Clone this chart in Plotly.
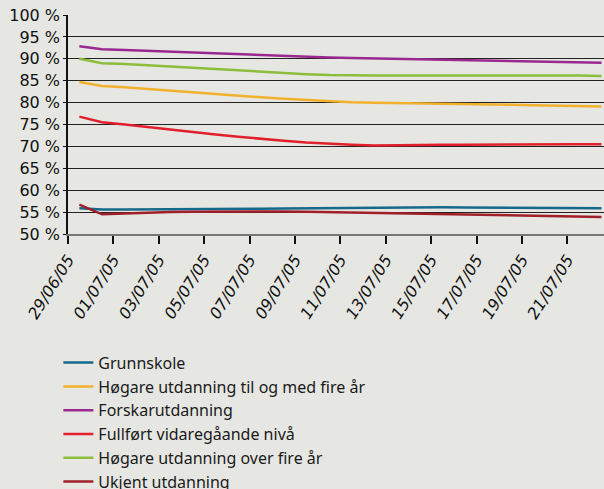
import plotly.graph_objects as go
import pandas as pd

dates = pd.date_range("2005-06-29 12:00", periods=24, freq="D")

grunnskole = [55.9, 55.6, 55.6, 55.6, 55.6, 55.6, 55.65, 55.7, 55.75, 55.8, 55.85, 55.9,
              56.0, 56.05, 56.1, 56.1, 56.1, 56.05, 56.0, 56.0, 55.95, 55.9, 55.9, 55.9]
hogare_til_fire = [84.7, 83.8, 83.5, 83.1, 82.7, 82.3, 81.9, 81.6, 81.2, 80.9, 80.6, 80.3,
                   80.1, 79.95, 79.9, 79.8, 79.8, 79.7, 79.6, 79.5, 79.4, 79.3, 79.2, 79.1]
forskar = [92.85, 92.2, 92.0, 91.8, 91.6, 91.4, 91.2, 91.0, 90.8, 90.6, 90.4, 90.3,
           90.2, 90.1, 90.0, 89.95, 89.9, 89.8, 89.6, 89.5, 89.4, 89.3, 89.2, 89.1]
vidaregaande = [76.8, 75.5, 75.0, 74.4, 73.8, 73.2, 72.7, 72.2, 71.7, 71.3, 70.9, 70.6,
                70.4, 70.2, 70.2, 70.3, 70.35, 70.4, 70.45, 70.5, 70.5, 70.5, 70.5, 70.5]
hogare_over_fire = [90.0, 89.0, 88.8, 88.5, 88.2, 87.9, 87.6, 87.3, 87.0, 86.7, 86.5, 86.3,
                    86.2, 86.2, 86.2, 86.2, 86.25, 86.3, 86.3, 86.3, 86.3, 86.25, 86.2, 86.1]
ukjent = [56.7, 54.5, 54.7, 54.9, 55.0, 55.1, 55.15, 55.2, 55.2, 55.15, 55.1, 55.0,
          54.9, 54.85, 54.8, 54.7, 54.6, 54.5, 54.4, 54.3, 54.2, 54.1, 54.0, 53.9]

series = [
    ("Grunnskole", grunnskole, "#15698c"),
    ("Høgare utdanning til og med fire år", hogare_til_fire, "#f2b12d"),
    ("Forskarutdanning", forskar, "#9a2890"),
    ("Fullført vidaregåande nivå", vidaregaande, "#e1202b"),
    ("Høgare utdanning over fire år", hogare_over_fire, "#8cbd3d"),
    ("Ukjent utdanning", ukjent, "#a11f29"),
]

y_ticks = [50, 55, 60, 65, 70, 75, 80, 85, 90, 95, 100]
y_labels = ["50 %", "55 %", "60 %", "65 %", "70 %", "75 %", "80 %", "85 %", "90 %", "95 %", "100 %"]

fig = go.Figure()
for i, (name, vals, col) in enumerate(series):
    fig.add_trace(go.Scatter(x=dates, y=vals, name=name, mode="lines",
                             line=dict(color=col, width=2.5), legendgroup=str(i)))

bg = "#e6e7e2"
fig.update_layout(
    width=604, height=489,
    margin=dict(l=68, r=0, t=15, b=255, autoexpand=False),
    paper_bgcolor=bg, plot_bgcolor=bg,
    showlegend=True,
    legend=dict(x=-0.018, y=-0.51, xanchor="left", yanchor="top",
                bgcolor="rgba(0,0,0,0)", tracegroupgap=0,
                font=dict(family="Noto Sans", size=16, color="#1a1a1a")),
    xaxis=dict(type="date", range=["2005-06-29 00:00", "2005-07-22 14:40"],
               dtick=2 * 86400000, tick0="2005-06-29", tickformat="%d/%m/%y",
               tickangle=-58, ticks="outside", ticklen=8, tickwidth=1.5, tickcolor="#111",
               showgrid=False, showline=True, linecolor="#777", linewidth=2,
               automargin=False,
               tickfont=dict(family="DejaVu Sans", size=16, color="#111", style="italic")),
    yaxis=dict(range=[50, 100], tickmode="array", tickvals=y_ticks, ticktext=y_labels,
               showgrid=True, gridcolor="#222", gridwidth=1,
               showline=True, linecolor="#111", linewidth=1.5,
               ticks="outside", ticklen=3, tickcolor="#111",
               zeroline=False, automargin=False,
               tickfont=dict(family="DejaVu Sans", size=16, color="#111")),
)

fig.write_html("out.html", config={"displayModeBar": False},
               post_script="document.body.style.margin='0';document.body.style.background='#e6e7e2';")
